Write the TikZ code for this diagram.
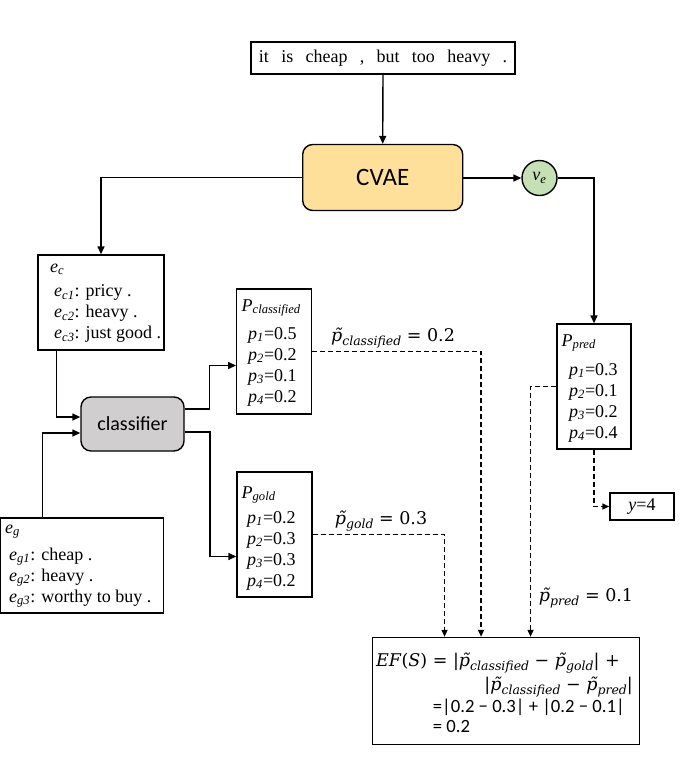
\documentclass[tikz,border=0pt]{standalone}
\usepackage{fontspec}
\setmainfont{Liberation Serif}
\newfontfamily\carlito{Carlito}
\newfontfamily\dvs{DejaVu Serif}
\usetikzlibrary{arrows.meta,calc}
\definecolor{cvaefill}{RGB}{255,224,155}
\definecolor{clsfill}{RGB}{208,206,206}
\definecolor{vefill}{RGB}{197,224,180}
\newcommand{\vsub}[2]{\textit{#1}\textsubscript{\textit{#2}}}
\newcommand{\ptl}[1]{{\itshape p̃}\raisebox{-4pt}{\itshape\fontsize{12.5}{12}\selectfont #1}}
\begin{document}
\begin{tikzpicture}[x=1pt,y=-1pt,
  box/.style={draw, line width=1.4pt, inner sep=0pt},
  rbox/.style={box, rounded corners=10pt},
  conn/.style={line width=1.4pt, -{Triangle[length=8pt,width=7pt]}},
  dconn/.style={line width=1.4pt, dash pattern=on 5pt off 3pt, -{Triangle[length=7pt,width=6pt]}},
  txt/.style={anchor=base west, inner sep=0pt, font=\fontsize{18}{21}\selectfont},
  mtxt/.style={inner sep=0pt, font=\dvs\fontsize{17.5}{21}\selectfont},
  ctxt/.style={inner sep=0pt, anchor=base west, font=\carlito\fontsize{18.7}{21}\selectfont},
]
\useasboundingbox (0,0) rectangle (691,761);

% boxes
\node[box, minimum width=264pt, minimum height=32pt, font=\fontsize{18}{21}\selectfont] (sent) at (383,58)
  {\spaceskip=12.3pt\relax it is cheap , but too heavy .};
\node[rbox, fill=cvaefill, minimum width=160pt, minimum height=66pt, font=\carlito\fontsize{25}{30}\selectfont] (cvae) at (382.7,177.5) {CVAE};
\node[circle, draw, line width=1.4pt, fill=vefill, minimum size=35pt, inner sep=0pt, font=\fontsize{18}{21}\selectfont] (ve) at (539.5,178) {\vsub{v}{e}};
\node[box, minimum width=126pt, minimum height=95pt] (ec) at (101,302.5) {};
\node[box, minimum width=74.5pt, minimum height=125pt] (pcls) at (274,351.5) {};
\node[box, minimum width=75pt, minimum height=125pt] (pgold) at (274.5,534.5) {};
\node[box, minimum width=163pt, minimum height=95pt] (eg) at (82.2,565.5) {};
\node[rbox, fill=clsfill, minimum width=103pt, minimum height=54pt, font=\carlito\fontsize{20}{24}\selectfont] (cls) at (132.5,424) {classifier};
\node[box, minimum width=74pt, minimum height=125pt] (ppred) at (594,386.5) {};
\node[box, minimum width=64pt, minimum height=27pt, font=\fontsize{18}{21}\selectfont] (y4) at (642,506.5) {\textit{y}=4};
\node[box, minimum width=266.5pt, minimum height=107pt] (ef) at (506,691) {};

% texts in e_c
\node[txt] (ec0) at (50,272) {\vsub{e}{c}};
\node[txt] (ec1) at (54,296.5) {\vsub{e}{c1}: pricy .};
\node[txt] (ec2) at (54,317.5) {\vsub{e}{c2}: heavy .};
\node[txt] (ec3) at (54,338.5) {\vsub{e}{c3}: just good .};
% texts in e_g
\node[txt] (eg0) at (5,533) {\vsub{e}{g}};
\node[txt] (eg1) at (9,560) {\vsub{e}{g1}: cheap .};
\node[txt] (eg2) at (9,581) {\vsub{e}{g2}: heavy .};
\node[txt] (eg3) at (9,602) {\vsub{e}{g3}: worthy to buy .};
% P classified
\node[txt] (pc0) at (241.5,311) {\vsub{P}{classified}};
\node[txt] (pc1) at (248,339) {\vsub{p}{1}=0.5};
\node[txt] (pc2) at (248,360) {\vsub{p}{2}=0.2};
\node[txt] (pc3) at (248,381) {\vsub{p}{3}=0.1};
\node[txt] (pc4) at (248,402) {\vsub{p}{4}=0.2};
% P gold
\node[txt] (pg0) at (241.5,498) {\vsub{P}{gold}};
\node[txt] (pg1) at (247,523) {\vsub{p}{1}=0.2};
\node[txt] (pg2) at (247,544) {\vsub{p}{2}=0.3};
\node[txt] (pg3) at (247,565) {\vsub{p}{3}=0.3};
\node[txt] (pg4) at (247,586) {\vsub{p}{4}=0.2};
% P pred
\node[txt] (pp0) at (561.5,346) {\vsub{P}{pred}};
\node[txt] (pp1) at (569,375) {\vsub{p}{1}=0.3};
\node[txt] (pp2) at (569,396) {\vsub{p}{2}=0.1};
\node[txt] (pp3) at (569,417) {\vsub{p}{3}=0.2};
\node[txt] (pp4) at (569,438) {\vsub{p}{4}=0.4};

% connectors
\draw[conn] (sent.south) -- (cvae.north);
\draw[conn] (cvae.west) -| (ec.north);
\draw[conn] (cvae.east |- ve.west) -- (ve.west);
\draw[conn] (ve.east) -| (ppred.north);
\draw[conn] ($(ec.south west)+(19.3,0)$) |- ($(cls.west)+(0,-7)$);
\draw[conn] ($(eg.north west)+(42.5,0)$) |- ($(cls.west)+(0,9)$);
\draw[conn] ($(cls.east)+(0,-15)$) -| ($(pcls.west)+(-26.3,14)$) -- ($(pcls.west)+(0,14)$);
\draw[conn] ($(cls.east)+(0,8)$) -| ($(pgold.west)+(-26.3,22)$) -- ($(pgold.west)+(0,22)$);
\draw[dconn] (pcls.east) -| ($(ef.north west)+(109,0)$);
\draw[dconn] (pgold.east) -| ($(ef.north west)+(72.5,0)$);
\draw[dconn] (ppred.west) -| ($(ef.north west)+(158.5,0)$);
\draw[dconn] (ppred.south) |- (y4.west);

% labels
\node[mtxt] (lcls) at (393,338) {\ptl{classified} = 0.2};
\node[mtxt] (lgold) at (381,521) {\ptl{gold} = 0.3};
\node[mtxt] (lpred) at (586,598) {\ptl{pred} = 0.1};

% EF formula
\node[mtxt, anchor=base west] (ef1) at (376,666.5) {\textit{EF}(\textit{S}) = |\ptl{classified} − \ptl{gold}| +};
\node[mtxt, anchor=base east] (ef2) at (633,690.5) {|\ptl{classified} − \ptl{pred}|};
\node[ctxt] (ef3) at (432.7,712) {=|0.2 − 0.3| + |0.2 − 0.1|};
\node[ctxt] (ef4) at (432.7,732) {= 0.2};
\end{tikzpicture}
\end{document}
